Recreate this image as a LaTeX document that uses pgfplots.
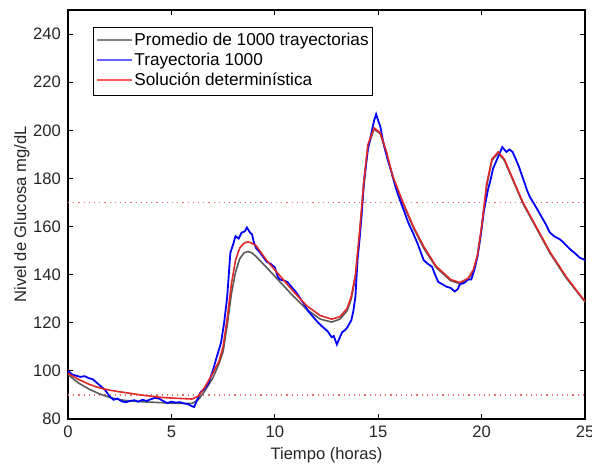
\documentclass[border=0pt]{standalone}
\usepackage{pgfplots}
\pgfplotsset{compat=1.18}
\usepackage{fontspec}
\setmainfont{Liberation Sans}
\definecolor{mgray}{RGB}{90,90,90}
\definecolor{mred}{RGB}{225,40,40}
\definecolor{txt}{RGB}{38,38,38}
\begin{document}
\begin{tikzpicture}
\begin{axis}[
  scale only axis,
  width=258.5pt, height=204.5pt,
  xmin=0, xmax=25, ymin=80, ymax=250,
  xtick={0,5,...,25}, ytick={80,100,...,240},
  tick align=inside, major tick length=2.5pt,
  tick style={black, line width=0.5pt},
  axis line style={black, line width=0.6pt},
  font=\fontsize{8.3}{9}\selectfont,
  tick label style={txt},
  /pgf/number format/assume math mode=true,
  xlabel={Tiempo (horas)}, ylabel={Nivel de Glucosa mg/dL},
  label style={txt},
  xlabel style={yshift=2pt},
  ylabel style={yshift=-5pt},
]
\addplot[mred!70, dotted, line width=0.6pt] coordinates {(0,170) (25,170)};
\addplot[mred!70, dotted, line width=0.6pt] coordinates {(0,90) (25,90)};
\addplot[mgray, line width=0.8pt] coordinates {
(0,98.5) (0.5,95) (1,92.5) (1.5,90.5) (2,89) (2.5,88) (3,87.5) (3.5,87.2) (4,87) (4.5,86.8) (5,86.6) (5.5,86.5) (6,86.5) (6.3,88) (6.6,91.5) (7,97) (7.3,103) (7.5,108) (7.7,119) (7.9,132) (8.1,141) (8.3,146.5) (8.5,149) (8.7,149.6) (8.9,149) (9.1,147.5) (9.6,143) (10.25,137) (10.9,131) (11.55,125.5) (12.2,121.5) (12.75,120.3) (13.15,121.5) (13.5,125) (13.7,130) (13.9,139) (14.1,156) (14.3,176) (14.5,193) (14.8,200.5) (15.1,198.5) (15.4,190.5) (15.7,180.5) (16.2,169.5) (16.7,159.5) (17.2,151) (17.8,143) (18.5,137.5) (18.95,136.2) (19.35,138) (19.6,141.5) (19.8,147.5) (20.0,159) (20.25,177) (20.5,187.5) (20.8,190.5) (21.1,187.5) (21.5,179.5) (22.0,169.5) (22.7,158.5) (23.3,149) (24.1,138.5) (24.9,129.7) (25,128.7)};
\addplot[blue, line width=0.9pt] coordinates {
(0,100) (0.2,98.5) (0.4,98) (0.6,97.5) (0.8,97.8) (1.0,97) (1.2,96.5) (1.4,95) (1.6,93.5) (1.8,92) (2.0,89.5) (2.2,88) (2.4,88.5) (2.6,87.3) (2.8,87) (3.0,87.5) (3.2,87.8) (3.4,87.2) (3.6,88) (3.8,87.5) (4.0,88.2) (4.2,88.8) (4.4,88.5) (4.6,87.5) (4.8,86.6) (5.0,87.2) (5.2,86.8) (5.4,87) (5.6,86.5) (5.8,86.2) (6.0,85.3) (6.1,85) (6.2,87) (6.4,91) (6.6,92.5) (6.8,95) (7.0,100) (7.2,106) (7.4,111.7) (7.55,120) (7.7,131) (7.85,149) (8.0,153) (8.1,156) (8.25,155) (8.4,157.5) (8.55,158) (8.65,159.6) (8.8,157.5) (8.9,156.7) (9.0,153) (9.1,151) (9.3,149) (9.6,145.4) (9.8,144.5) (10.0,143) (10.15,139) (10.25,138) (10.45,137.5) (10.6,137) (10.8,135) (11.0,133) (11.2,130.5) (11.4,128) (11.6,125) (11.85,122.5) (12.1,120) (12.35,118) (12.55,116.5) (12.75,114) (12.85,114.5) (13.0,111) (13.1,113) (13.25,116) (13.4,117) (13.5,118) (13.7,121) (13.8,125) (13.9,131) (14.0,146) (14.1,155) (14.2,165) (14.3,178) (14.4,185) (14.5,192) (14.6,196) (14.7,200) (14.8,204) (14.9,206.7) (15.0,204) (15.1,201.7) (15.2,197) (15.3,193) (15.45,188) (15.65,182.5) (15.85,176) (16.05,171) (16.25,166.5) (16.45,161.7) (16.7,157) (16.9,153) (17.05,149.5) (17.2,146) (17.4,144.5) (17.6,143.3) (17.75,140) (17.9,137) (18.1,136) (18.3,135) (18.5,134.5) (18.7,133) (18.85,134) (18.95,136) (19.15,136.5) (19.35,138) (19.5,138) (19.65,142) (19.8,147.5) (19.95,156) (20.1,166) (20.3,175) (20.45,180) (20.55,184) (20.7,187) (20.8,189) (20.9,191) (21.0,193) (21.1,192) (21.2,191) (21.35,192) (21.5,191) (21.65,188) (21.8,185) (22.0,180) (22.2,175) (22.35,172) (22.5,170) (22.7,167) (22.9,164) (23.1,161) (23.3,157.5) (23.5,156) (23.8,154.6) (24.0,153) (24.3,150.4) (24.5,149) (24.75,147) (24.9,146.5) (25,146)};
\addplot[mred, line width=0.8pt] coordinates {
(0,99) (0.5,96.5) (1,94.5) (1.5,93) (2,92) (2.5,91.3) (3,90.7) (3.5,90) (4,89.5) (4.5,89) (5,88.7) (5.5,88.5) (6,88.3) (6.3,89.5) (6.6,93) (7,99) (7.3,104) (7.5,110) (7.7,122) (7.9,136) (8.1,146) (8.3,151) (8.5,153) (8.7,153.7) (8.9,153) (9.1,152) (9.6,146) (10.25,139.5) (10.9,133) (11.55,127) (12.2,123) (12.75,121.5) (13.15,122.5) (13.5,126) (13.7,131) (13.9,140) (14.1,158) (14.3,178) (14.5,194) (14.8,201) (15.1,199) (15.4,191) (15.7,181) (16.2,170) (16.7,160) (17.2,151.7) (17.8,143.5) (18.5,138) (18.95,136.7) (19.35,138.5) (19.6,142) (19.8,148) (20.0,160) (20.25,178) (20.5,188) (20.8,191) (21.1,188) (21.5,180) (22.0,170) (22.7,159) (23.3,149.5) (24.1,139) (24.9,130) (25,129)};
\node[draw=black, line width=0.6pt, fill=white, anchor=north west,
  inner xsep=2pt, inner ysep=2pt, font=\fontsize{8.6}{10}\selectfont]
  at (rel axis cs:0.048,0.958) {%
  \begin{tabular}{@{}l@{\hspace{1pt}}l@{}}
  \textcolor{mgray!75}{\rule[0.55ex]{17.5pt}{0.8pt}} & Promedio de 1000 trayectorias\\
  \textcolor{blue!60}{\rule[0.55ex]{17.5pt}{0.9pt}} & Trayectoria 1000\\
  \textcolor{red!65}{\rule[0.55ex]{17.5pt}{0.9pt}} & Solución determinística
  \end{tabular}};
\end{axis}
\pgfresetboundingbox
\path (current axis.south west) ++(-34pt,-24.5pt) coordinate (bl);
\path (current axis.north east) ++(3.5pt,5pt) coordinate (tr);
\useasboundingbox (bl) rectangle (tr);
\end{tikzpicture}
\end{document}
